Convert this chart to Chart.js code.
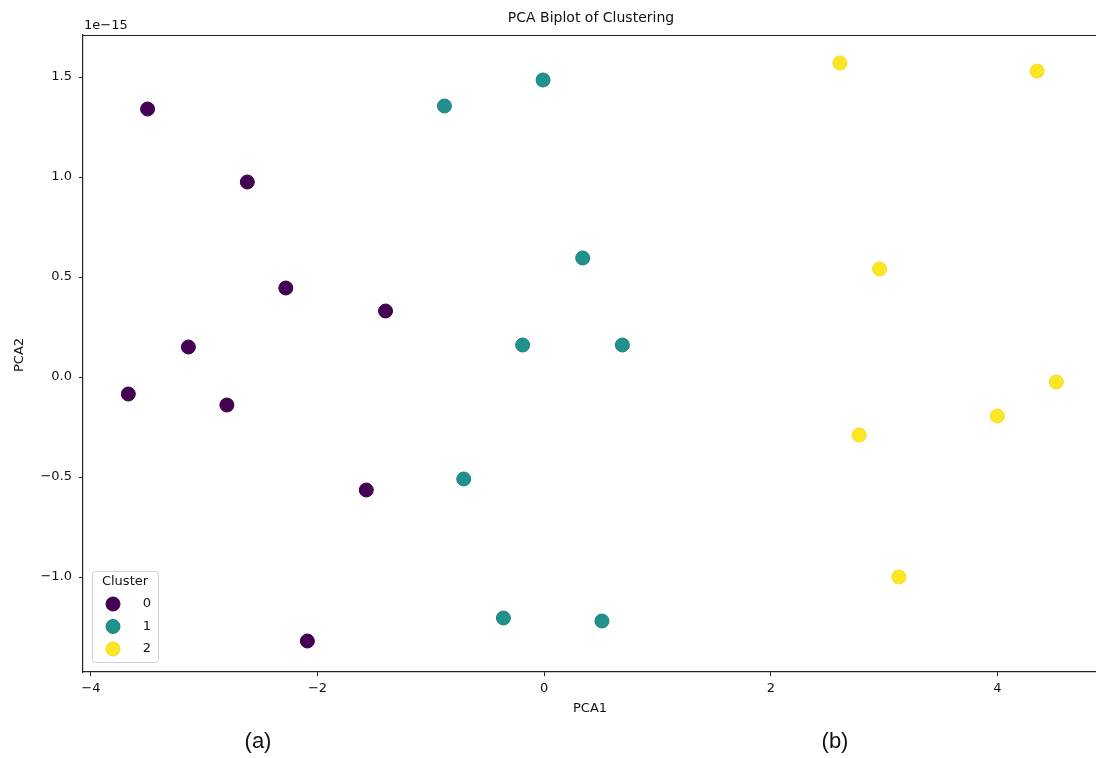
<!DOCTYPE html>
<html>
<head>
<meta charset="utf-8">
<script src="https://cdn.jsdelivr.net/npm/chart.js@4/dist/chart.umd.min.js"></script>
<style>
  html, body { margin: 0; padding: 0; background: #fff; }
  #wrap { width: 1096px; height: 758px; }
</style>
</head>
<body>
<div id="wrap"><canvas id="c" width="1096" height="758"></canvas></div>
<script>
// PCA coordinates, y values in units of 1e-15
const cluster0X = [-3.50, -2.62, -2.28, -1.40, -3.14, -3.67, -2.80, -1.57, -2.09];
const cluster0Y = [1.34, 0.975, 0.445, 0.33, 0.15, -0.085, -0.14, -0.565, -1.32];
const cluster1X = [-0.88, -0.01, 0.34, -0.19, 0.69, -0.71, -0.36, 0.51];
const cluster1Y = [1.355, 1.485, 0.595, 0.16, 0.16, -0.51, -1.205, -1.22];
const cluster2X = [2.61, 4.35, 2.96, 4.52, 4.00, 2.78, 3.13];
const cluster2Y = [1.57, 1.53, 0.54, -0.025, -0.195, -0.29, -1.0];

const clusterNames = ['0', '1', '2'];
const clusterColors = ['#440154', '#21918c', '#fde725'];
const clusterEdges = ['#3a0148', '#1d827d', '#f2db1f'];

const xTicks = [-4, -2, 0, 2, 4];
const yTicks = [-1.0, -0.5, 0.0, 0.5, 1.0, 1.5];

const TICK_FONT = { family: 'DejaVu Sans', size: 13 };
const minus = v => String(v).replace('-', '\u2212');

function pts(xs, ys) {
  return xs.map((x, i) => ({ x: x, y: ys[i] }));
}

const datasets = [
  pts(cluster0X, cluster0Y),
  pts(cluster1X, cluster1Y),
  pts(cluster2X, cluster2Y)
].map((data, i) => ({
  label: clusterNames[i],
  data: data,
  backgroundColor: clusterColors[i],
  borderColor: clusterEdges[i],
  borderWidth: 1,
  pointRadius: 7,
  pointHoverRadius: 7
}));

// extra text: title, offset label, axis labels, legend, panel tags
const decor = {
  id: 'decor',
  afterDraw(chart) {
    const ctx = chart.ctx;
    const a = chart.chartArea;
    ctx.save();
    // top spine
    ctx.strokeStyle = '#222';
    ctx.lineWidth = 1.2;
    ctx.beginPath();
    ctx.moveTo(a.left, a.top + 0.5);
    ctx.lineTo(a.right, a.top + 0.5);
    ctx.stroke();

    ctx.fillStyle = '#111';
    ctx.textBaseline = 'middle';
    ctx.textAlign = 'center';
    ctx.font = '14px "DejaVu Sans"';
    ctx.fillText('PCA Biplot of Clustering', 591, 18);

    ctx.textAlign = 'left';
    ctx.font = '13px "DejaVu Sans"';
    ctx.fillText('1e\u221215', 84, 26);

    ctx.textAlign = 'center';
    ctx.fillText('PCA1', 590, 709);
    ctx.save();
    ctx.translate(20, 355);
    ctx.rotate(-Math.PI / 2);
    ctx.fillText('PCA2', 0, 0);
    ctx.restore();

    // legend box
    ctx.strokeStyle = '#d0d0d0';
    ctx.lineWidth = 1;
    ctx.fillStyle = 'rgba(255,255,255,0.8)';
    ctx.beginPath();
    ctx.roundRect(92.5, 571.5, 66, 91, 3);
    ctx.fill();
    ctx.stroke();
    ctx.fillStyle = '#111';
    ctx.font = '13px "DejaVu Sans"';
    ctx.fillText('Cluster', 125, 582);
    clusterNames.forEach((n, i) => {
      const y = 604 + i * 22.5;
      ctx.beginPath();
      ctx.arc(113, y, 7, 0, Math.PI * 2);
      ctx.fillStyle = clusterColors[i];
      ctx.fill();
      ctx.strokeStyle = clusterEdges[i];
      ctx.stroke();
      ctx.fillStyle = '#111';
      ctx.fillText(n, 147, y);
    });

    ctx.fillStyle = '#111';
    ctx.font = '22px "Liberation Sans"';
    ctx.fillText('(a)', 258, 742);
    ctx.fillText('(b)', 835, 742);
    ctx.restore();
  }
};

new Chart(document.getElementById('c'), {
  type: 'scatter',
  data: { datasets },
  options: {
    responsive: false,
    animation: false,
    devicePixelRatio: 1,
    layout: { autoPadding: false, padding: { top: 35, right: 0, bottom: 0, left: 0 } },
    plugins: { legend: { display: false }, tooltip: { enabled: false } },
    scales: {
      x: {
        type: 'linear',
        min: -4.07,
        max: 4.87,
        afterFit: s => { s.height = 86; s.paddingLeft = 0; s.paddingRight = 0; },
        afterBuildTicks: s => { s.ticks = xTicks.map(v => ({ value: v })); },
        grid: { drawOnChartArea: false, drawTicks: true, tickLength: 4, color: '#222', tickWidth: 1 },
        border: { display: true, color: '#222', width: 1.2 },
        ticks: { font: TICK_FONT, color: '#111', padding: 5, callback: v => minus(v) }
      },
      y: {
        type: 'linear',
        min: -1.475,
        max: 1.71,
        afterFit: s => { s.width = 83; s.paddingTop = 0; s.paddingBottom = 0; },
        afterBuildTicks: s => { s.ticks = yTicks.map(v => ({ value: v })); },
        grid: { drawOnChartArea: false, drawTicks: true, tickLength: 4, color: '#222', tickWidth: 1 },
        border: { display: true, color: '#222', width: 1.2 },
        ticks: { font: TICK_FONT, color: '#111', padding: 7, callback: v => minus(Number(v).toFixed(1)) }
      }
    }
  },
  plugins: [decor]
});
</script>
</body>
</html>
